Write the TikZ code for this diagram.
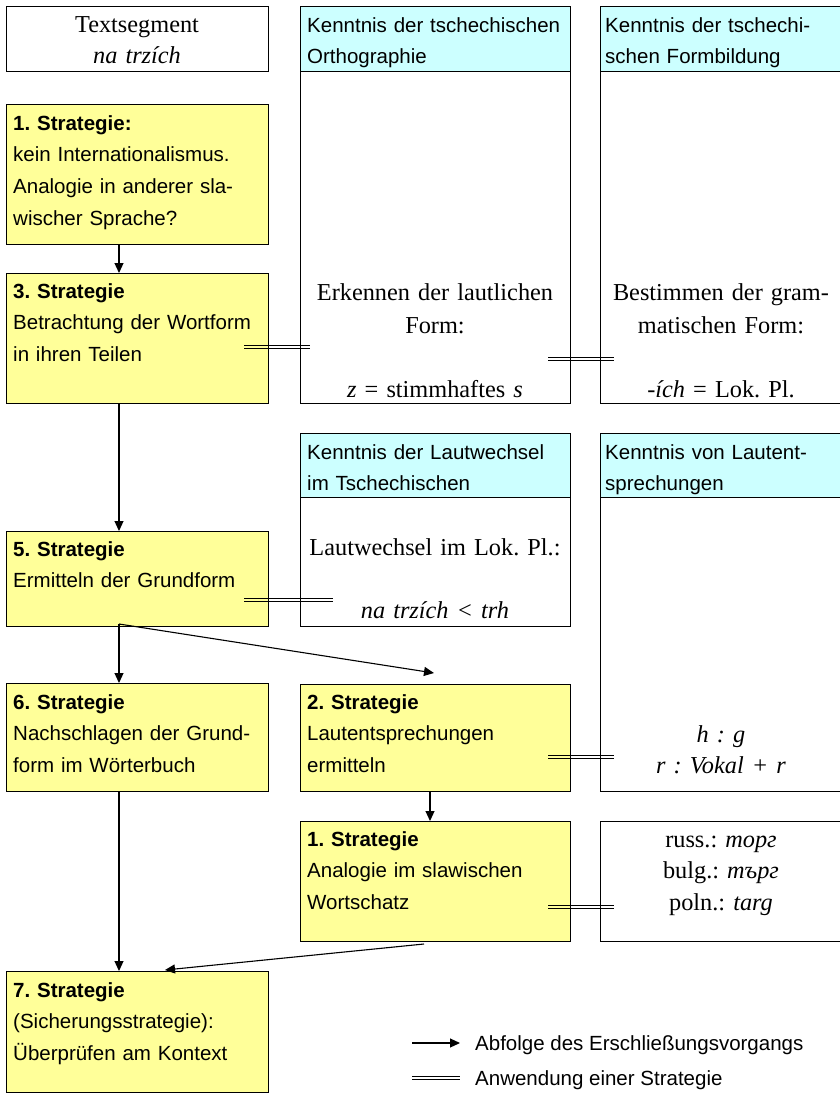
\documentclass[tikz,border=0pt]{standalone}
\usepackage{fontspec}
\setmainfont{Liberation Serif}
\setsansfont{Liberation Sans}
\usetikzlibrary{calc,arrows.meta}
\frenchspacing
\definecolor{boxyellow}{HTML}{FFFF99}
\definecolor{hdrcyan}{HTML}{CCFFFF}
\newcommand\sfs{\sffamily\fontsize{20.5}{31.8}\selectfont}
\newcommand\rms{\rmfamily\fontsize{24.3}{33}\selectfont}
\tikzset{
  ybox/.style={draw, line width=1pt, fill=boxyellow, anchor=north west, inner sep=0pt},
  wbox/.style={draw, line width=1pt, fill=white, anchor=north west, inner sep=0pt},
  hbox/.style={draw, line width=1pt, fill=hdrcyan, anchor=north west, inner sep=0pt},
  stxt/.style={anchor=base west, inner sep=0pt, text width=320pt, align=left, font=\sfs},
  rtxt/.style={anchor=base, inner sep=0pt, text width=260pt, align=center, font=\rms},
  flow/.style={line width=1.1pt, -{Triangle[length=10pt,width=9pt]}},
  applyline/.style={line width=0.9pt},
}
\newcommand\dblline[2]{%
  \draw[applyline] ([yshift=1.5pt]#1) -- ([yshift=1.5pt]#2);
  \draw[applyline] ([yshift=-1.5pt]#1) -- ([yshift=-1.5pt]#2);}
\begin{document}
\begin{tikzpicture}[x=1pt,y=-1pt]
\useasboundingbox (0,0) rectangle (840,1093);

% left column
\node[wbox, minimum width=262pt, minimum height=65pt] (ts) at (6,6) {};
\node[ybox, minimum width=262pt, minimum height=140pt] (b1) at (6,104) {};
\node[ybox, minimum width=262pt, minimum height=130pt] (s3) at (6,273) {};
\node[ybox, minimum width=262pt, minimum height=95pt] (s5) at (6,531) {};
\node[ybox, minimum width=262pt, minimum height=108pt] (s6) at (6,683) {};
\node[ybox, minimum width=262pt, minimum height=121pt] (s7) at (6,971) {};
% middle column
\node[ybox, minimum width=270pt, minimum height=107pt] (s2) at (300,684) {};
\node[ybox, minimum width=270pt, minimum height=120pt] (s1b) at (300,821) {};

% knowledge boxes
\node[wbox, minimum width=270pt, minimum height=397pt] (k1) at (300,6) {};
\node[hbox, minimum width=270pt, minimum height=65pt] (k1h) at (300,6) {};
\node[wbox, minimum width=250pt, minimum height=397pt] (k2) at (600,6) {};
\node[hbox, minimum width=250pt, minimum height=65pt] (k2h) at (600,6) {};
\node[wbox, minimum width=270pt, minimum height=193pt] (k3) at (300,433) {};
\node[hbox, minimum width=270pt, minimum height=64pt] (k3h) at (300,433) {};
\node[wbox, minimum width=250pt, minimum height=358pt] (k4) at (600,433) {};
\node[hbox, minimum width=250pt, minimum height=64pt] (k4h) at (600,433) {};
\node[wbox, minimum width=250pt, minimum height=120pt] (k5) at (600,821) {};

% texts
\node[rtxt] (tst) at (137,32) {Textsegment\\[-2pt]\textit{na trzích}};
\node[stxt] (b1t) at (13,130) {\textbf{1. Strategie:}\\kein Internationalismus.\\Analogie in anderer sla-\\wischer Sprache?};
\node[stxt] (s3t) at (13,298) {\textbf{3. Strategie}\\Betrachtung der Wortform\\in ihren Teilen};
\node[stxt] (s5t) at (13,556) {\textbf{5. Strategie}\\Ermitteln der Grundform};
\node[stxt] (s6t) at (13,709) {\textbf{6. Strategie}\\Nachschlagen der Grund-\\form im Wörterbuch};
\node[stxt] (s7t) at (13,997) {\textbf{7. Strategie}\\(Sicherungsstrategie):\\Überprüfen am Kontext};
\node[stxt] (s2t) at (307,709) {\textbf{2. Strategie}\\Lautentsprechungen\\ermitteln};
\node[stxt] (s1bt) at (307,846) {\textbf{1. Strategie}\\Analogie im slawischen\\Wortschatz};

\node[stxt] (k1ht) at (307,32) {Kenntnis der tschechischen\\Orthographie};
\node[stxt] (k2ht) at (605,32) {Kenntnis der tschechi-\\schen Formbildung};
\node[stxt] (k3ht) at (307,459) {Kenntnis der Lautwechsel\\im Tschechischen};
\node[stxt] (k4ht) at (605,459) {Kenntnis von Lautent-\\sprechungen};

\node[rtxt] (k1a) at (435,300) {Erkennen der lautlichen\\Form:};
\node[rtxt] (k1b) at (435,397) {\textit{z} = stimmhaftes \textit{s}};
\node[rtxt] (k2a) at (721,300) {Bestimmen der gram-\\matischen Form:};
\node[rtxt] (k2b) at (721,397) {-\textit{ích} = Lok. Pl.};
\node[rtxt] (k3a) at (435,555) {Lautwechsel im Lok. Pl.:};
\node[rtxt] (k3b) at (435,618) {\textit{na trzích < trh}};
\node[rtxt] (k4a) at (721,742) {\textit{h : g}\\[-2pt]\textit{r : Vokal + r}};
\node[rtxt] (k5a) at (721,847) {russ.: \textit{торг}\\[-2pt]bulg.: \textit{търг}\\[-1pt]poln.: \textit{targ}};

% flow arrows
\draw[flow] ($(b1.south west)+(113,0)$) -- ($(s3.north west)+(113,0)$);
\draw[flow] ($(s3.south west)+(113,0)$) -- ($(s5.north west)+(113,0)$);
\coordinate (sp) at ($(s5.south west)+(113,-3)$);
\draw[flow] (sp) -- ($(s6.north west)+(113,0)$);
\draw[flow] (sp) -- ($(s2.north west)+(134,-11)$);
\draw[flow] ($(s2.south west)+(130,0)$) -- ($(s1b.north west)+(130,0)$);
\draw[flow] ($(s6.south west)+(113,0)$) -- ($(s7.north west)+(113,0)$);
\draw[flow] ($(s1b.south west)+(124,2)$) -- ($(s7.north west)+(159,-1)$);

% application double lines
\coordinate (d1a) at ($(s3.north east)+(-25,74)$);
\coordinate (d1b) at ($(k1.north west)+(10,341)$);
\coordinate (d2a) at ($(k1.north east)+(-23,353)$);
\coordinate (d2b) at ($(k2.north west)+(14,353)$);
\coordinate (d3a) at ($(s5.north east)+(-25,69)$);
\coordinate (d3b) at ($(k3.north west)+(33,167)$);
\coordinate (d4a) at ($(s2.north east)+(-23,73)$);
\coordinate (d4b) at ($(k4.north west)+(14,324)$);
\coordinate (d5a) at ($(s1b.north east)+(-23,86)$);
\coordinate (d5b) at ($(k5.north west)+(14,86)$);
\dblline{d1a}{d1b}
\dblline{d2a}{d2b}
\dblline{d3a}{d3b}
\dblline{d4a}{d4b}
\dblline{d5a}{d5b}

% legend
\coordinate (la1) at (412,1043);
\coordinate (la2) at (460,1043);
\draw[flow] (la1) -- (la2);
\node[anchor=base west, inner sep=0pt, font=\sfs] (l1) at (475,1050) {Abfolge des Erschließungsvorgangs};
\coordinate (lb1) at (412,1078);
\coordinate (lb2) at (460,1078);
\dblline{lb1}{lb2}
\node[anchor=base west, inner sep=0pt, font=\sfs] (l2) at (475,1085) {Anwendung einer Strategie};
\end{tikzpicture}
\end{document}
